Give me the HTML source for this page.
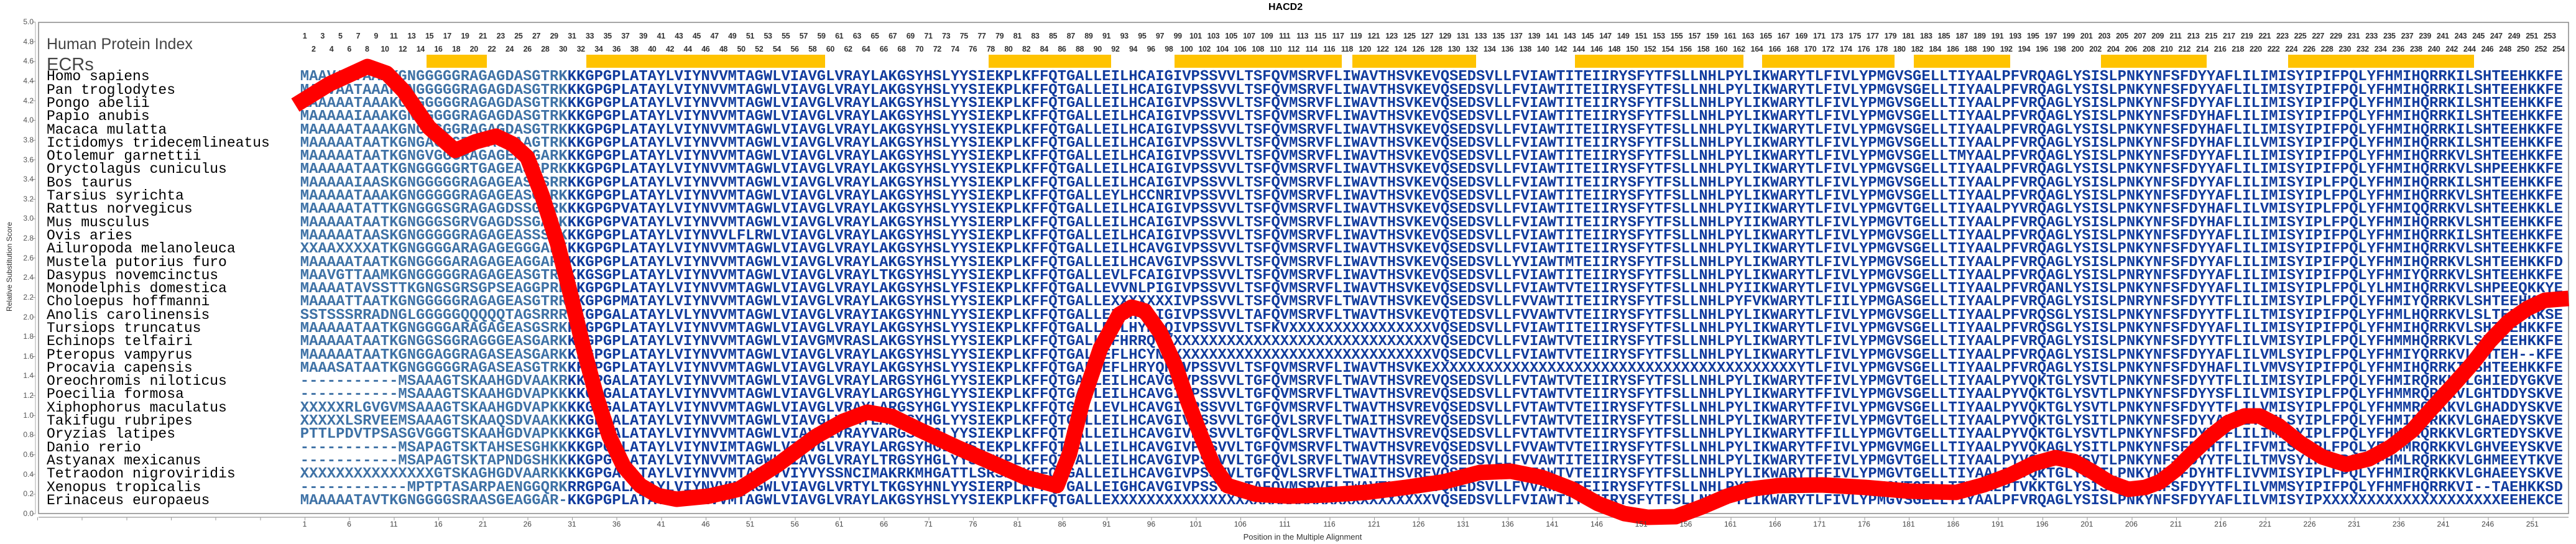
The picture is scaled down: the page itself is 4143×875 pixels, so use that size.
<!DOCTYPE html>
<html><head><meta charset="utf-8">
<style>
*{margin:0;padding:0;box-sizing:border-box}
body{width:4143px;height:875px;background:#fff;position:relative;overflow:hidden;font-family:"Liberation Sans",sans-serif}
.abs{position:absolute}
pre{margin:0}
.names{left:75px;top:113.35px;font-family:"Liberation Mono","DejaVu Sans Mono",monospace;font-size:23px;line-height:21.3px;color:#000}
.seq{left:482.8px;top:113.35px;font-family:"Liberation Mono","DejaVu Sans Mono",monospace;font-weight:bold;font-size:23.885px;line-height:21.3px;color:#123c9e;white-space:pre}
.seq i{font-style:normal;color:#3f72a6}
.idx{display:flex;font-family:"Liberation Sans Narrow","Liberation Sans",sans-serif;font-weight:bold;font-size:12.5px;color:#333;letter-spacing:-0.4px}
.idx span{width:28.667px;flex:none;text-align:center}
.xl{display:flex;font-size:12px;color:#444;top:836px;left:454.17px}
.xl span{width:71.667px;flex:none;text-align:center}
.yl{left:20px;top:27.2px;width:34px;font-size:12px;color:#555;text-align:right}
.yl div{height:31.64px;line-height:16px}
</style></head><body>

<div class="abs" style="left:2040px;top:3px;font-weight:bold;font-size:16px;color:#000">HACD2</div>

<svg class="abs" style="left:0;top:0" width="4143" height="875">
<rect x="62" y="36" width="4069" height="790" fill="none" stroke="#888" stroke-width="1.5"/>
<line x1="57" y1="36" x2="57" y2="826" stroke="#aaa" stroke-width="1"/>
<line x1="62" y1="832" x2="4131" y2="832" stroke="#aaa" stroke-width="1.5"/>
<g fill="#FFC300">
<rect x="686" y="88" width="97" height="21"/>
<rect x="943" y="88" width="384" height="21"/>
<rect x="1590" y="88" width="197" height="21"/>
<rect x="1889" y="88" width="269" height="21"/>
<rect x="2175" y="88" width="199" height="21"/>
<rect x="2533" y="88" width="271" height="21"/>
<rect x="2834" y="88" width="213" height="21"/>
<rect x="3078" y="88" width="155" height="21"/>
<rect x="3379" y="88" width="170" height="21"/>
<rect x="3680" y="88" width="299" height="21"/>
</g>
</svg>

<div class="abs" style="left:52px;top:35px;width:5px;height:792px;background:repeating-linear-gradient(to bottom,#999 0 1px,transparent 1px 31.64px)"></div>
<div class="abs" style="left:60px;top:832px;width:4071px;height:5px;background:repeating-linear-gradient(to right,#999 0 1px,transparent 1px 71.667px)"></div>

<div class="abs yl">
<div>5.0</div><div>4.8</div><div>4.6</div><div>4.4</div><div>4.2</div><div>4.0</div><div>3.8</div><div>3.6</div><div>3.4</div><div>3.2</div><div>3.0</div><div>2.8</div><div>2.6</div><div>2.4</div><div>2.2</div><div>2.0</div><div>1.8</div><div>1.6</div><div>1.4</div><div>1.2</div><div>1.0</div><div>0.8</div><div>0.6</div><div>0.4</div><div>0.2</div><div>0.0</div>
</div>
<div class="abs" style="left:-70px;top:422px;width:170px;text-align:center;font-size:12px;color:#333;transform:rotate(-90deg)">Relative Substitution Score</div>

<div class="abs" style="left:75px;top:56px;font-size:25px;color:#444;line-height:30px">Human Protein Index</div>
<div class="abs" style="left:75px;top:88px;font-size:29px;color:#444;line-height:32px">ECRs</div>

<div class="abs idx" style="left:475.67px;top:51px">
<span>1</span><span>3</span><span>5</span><span>7</span><span>9</span><span>11</span><span>13</span><span>15</span><span>17</span><span>19</span><span>21</span><span>23</span><span>25</span><span>27</span><span>29</span><span>31</span><span>33</span><span>35</span><span>37</span><span>39</span><span>41</span><span>43</span><span>45</span><span>47</span><span>49</span><span>51</span><span>53</span><span>55</span><span>57</span><span>59</span><span>61</span><span>63</span><span>65</span><span>67</span><span>69</span><span>71</span><span>73</span><span>75</span><span>77</span><span>79</span><span>81</span><span>83</span><span>85</span><span>87</span><span>89</span><span>91</span><span>93</span><span>95</span><span>97</span><span>99</span><span>101</span><span>103</span><span>105</span><span>107</span><span>109</span><span>111</span><span>113</span><span>115</span><span>117</span><span>119</span><span>121</span><span>123</span><span>125</span><span>127</span><span>129</span><span>131</span><span>133</span><span>135</span><span>137</span><span>139</span><span>141</span><span>143</span><span>145</span><span>147</span><span>149</span><span>151</span><span>153</span><span>155</span><span>157</span><span>159</span><span>161</span><span>163</span><span>165</span><span>167</span><span>169</span><span>171</span><span>173</span><span>175</span><span>177</span><span>179</span><span>181</span><span>183</span><span>185</span><span>187</span><span>189</span><span>191</span><span>193</span><span>195</span><span>197</span><span>199</span><span>201</span><span>203</span><span>205</span><span>207</span><span>209</span><span>211</span><span>213</span><span>215</span><span>217</span><span>219</span><span>221</span><span>223</span><span>225</span><span>227</span><span>229</span><span>231</span><span>233</span><span>235</span><span>237</span><span>239</span><span>241</span><span>243</span><span>245</span><span>247</span><span>249</span><span>251</span><span>253</span>
</div>
<div class="abs idx" style="left:490px;top:72px">
<span>2</span><span>4</span><span>6</span><span>8</span><span>10</span><span>12</span><span>14</span><span>16</span><span>18</span><span>20</span><span>22</span><span>24</span><span>26</span><span>28</span><span>30</span><span>32</span><span>34</span><span>36</span><span>38</span><span>40</span><span>42</span><span>44</span><span>46</span><span>48</span><span>50</span><span>52</span><span>54</span><span>56</span><span>58</span><span>60</span><span>62</span><span>64</span><span>66</span><span>68</span><span>70</span><span>72</span><span>74</span><span>76</span><span>78</span><span>80</span><span>82</span><span>84</span><span>86</span><span>88</span><span>90</span><span>92</span><span>94</span><span>96</span><span>98</span><span>100</span><span>102</span><span>104</span><span>106</span><span>108</span><span>110</span><span>112</span><span>114</span><span>116</span><span>118</span><span>120</span><span>122</span><span>124</span><span>126</span><span>128</span><span>130</span><span>132</span><span>134</span><span>136</span><span>138</span><span>140</span><span>142</span><span>144</span><span>146</span><span>148</span><span>150</span><span>152</span><span>154</span><span>156</span><span>158</span><span>160</span><span>162</span><span>164</span><span>166</span><span>168</span><span>170</span><span>172</span><span>174</span><span>176</span><span>178</span><span>180</span><span>182</span><span>184</span><span>186</span><span>188</span><span>190</span><span>192</span><span>194</span><span>196</span><span>198</span><span>200</span><span>202</span><span>204</span><span>206</span><span>208</span><span>210</span><span>212</span><span>214</span><span>216</span><span>218</span><span>220</span><span>222</span><span>224</span><span>226</span><span>228</span><span>230</span><span>232</span><span>234</span><span>236</span><span>238</span><span>240</span><span>242</span><span>244</span><span>246</span><span>248</span><span>250</span><span>252</span><span>254</span>
</div>

<pre class="abs names">Homo sapiens
Pan troglodytes
Pongo abelii
Papio anubis
Macaca mulatta
Ictidomys tridecemlineatus
Otolemur garnettii
Oryctolagus cuniculus
Bos taurus
Tarsius syrichta
Rattus norvegicus
Mus musculus
Ovis aries
Ailuropoda melanoleuca
Mustela putorius furo
Dasypus novemcinctus
Monodelphis domestica
Choloepus hoffmanni
Anolis carolinensis
Tursiops truncatus
Echinops telfairi
Pteropus vampyrus
Procavia capensis
Oreochromis niloticus
Poecilia formosa
Xiphophorus maculatus
Takifugu rubripes
Oryzias latipes
Danio rerio
Astyanax mexicanus
Tetraodon nigroviridis
Xenopus tropicalis
Erinaceus europaeus</pre>

<pre class="abs seq"><i>MAAVAATAAAKGNGGGGGRAGAGDASGTRK</i>KKGPGPLATAYLVIYNVVMTAGWLVIAVGLVRAYLAKGSYHSLYYSIEKPLKFFQTGALLEILHCAIGIVPSSVVLTSFQVMSRVFLIWAVTHSVKEVQSEDSVLLFVIAWTITEIIRYSFYTFSLLNHLPYLIKWARYTLFIVLYPMGVSGELLTIYAALPFVRQAGLYSISLPNKYNFSFDYYAFLILIMISYIPIFPQLYFHMIHQRRKILSHTEEHKKFE
<i>MAAVAATAAAKGNGGGGGRAGAGDASGTRK</i>KKGPGPLATAYLVIYNVVMTAGWLVIAVGLVRAYLAKGSYHSLYYSIEKPLKFFQTGALLEILHCAIGIVPSSVVLTSFQVMSRVFLIWAVTHSVKEVQSEDSVLLFVIAWTITEIIRYSFYTFSLLNHLPYLIKWARYTLFIVLYPMGVSGELLTIYAALPFVRQAGLYSISLPNKYNFSFDYYAFLILIMISYIPIFPQLYFHMIHQRRKILSHTEEHKKFE
<i>AAAAAATAAAKGNGGGGGRAGAGDASGTRK</i>KKGPGPLATAYLVIYNVVMTAGWLVIAVGLVRAYLAKGSYHSLYYSIEKPLKFFQTGALLEILHCAIGIVPSSVVLTSFQVMSRVFLIWAVTHSVKEVQSEDSVLLFVIAWTITEIIRYSFYTFSLLNHLPYLIKWARYTLFIVLYPMGVSGELLTIYAALPFVRQAGLYSISLPNKYNFSFDYYAFLILIMISYIPIFPQLYFHMIHQRRKILSHTEEHKKFE
<i>MAAAAAIAAAKGNGGGGGRAGAGDASGTRK</i>KKGPGPLATAYLVIYNVVMTAGWLVIAVGLVRAYLAKGSYHSLYYSIEKPLKFFQTGALLEILHCAIGIVPSSVVLTSFQVMSRVFLIWAVTHSVKEVQSEDSVLLFVIAWTITEIIRYSFYTFSLLNHLPYLIKWARYTLFIVLYPMGVSGELLTIYAALPFVRQAGLYSISLPNKYNFSFDYHAFLILIMISYIPIFPQLYFHMIHQRRKILSHTEEHKKFE
<i>MAAAAATAAAKGNGGGGGRAGAGDASGTRK</i>KKGPGPLATAYLVIYNVVMTAGWLVIAVGLVRAYLAKGSYHSLYYSIEKPLKFFQTGALLEILHCAIGIVPSSVVLTSFQVMSRVFLIWAVTHSVKEVQSEDSVLLFVIAWTITEIIRYSFYTFSLLNHLPYLIKWARYTLFIVLYPMGVSGELLTIYAALPFVRQAGLYSISLPNKYNFSFDYHAFLILIMISYIPIFPQLYFHMIHQRRKILSHTEEHKKFE
<i>MAAAAATAATKGNGAGGGRVGAGEAAGTRK</i>KKGPGPLATAYLVIYNVVMTAGWLVIAVGLVRAYLAKGSYHSLYYSIEKPLKFFQTGALLEILHCAIGIVPSSVVLTSFQVMSRVFLIWAVTHSVKEVQSEDSVLLFVIAWTITEIIRYSFYTFSLLNHLPYLIKWARYTLFIVLYPMGVSGELLTIYAALPFVRQAGLYSISLPNKYNFSFDYHAFLILVMISYIPIFPQLYFHMIHQRRKILSHTEEHKKFE
<i>MAAAAATAATKGNGVGGGRAGAGEASGARK</i>KKGPGPLATAYLVIYNVVMTAGWLVIAVGLVRAYLAKGSYHSLYYSIEKPLKFFQTGALLEILHCAIGIVPSSVVLTSFQVMSRVFLIWAVTHSVKEVQSEDSVLLFVIAWTITEIIRYSFYTFSLLNHLPYLIKWARYTLFIVLYPMGVSGELLTMYAALPFVRQAGLYSISLPNKYNFSFDYYAFLILIMISYIPIFPQLYFHMIHQRRKVLSHTEEHKKFE
<i>MAAAAATAATKGNGGGGGRTGAGEASGPRK</i>KKGPGPLATAYLVIYNVVMTAGWLVIAVGLVRAYLAKGSYHSLYYSIEKPLKFFQTGALLEILHCAIGIVPSSVVLTSFQVMSRVFLIWAVTHSVKEVQSEDSVLLFVIAWTITEIIRYSFYTFSLLNHLPYLIKWARYTLFIVLYPMGVSGELLTIYAALPFVRQAGLYSISLPNKYNFSFDYYAFLILIMISYIPIFPQLYFHMIHQRRKVLSHPEEHKKFE
<i>MAAAAAIAASKGNGGGGGRAGAGEASSSRR</i>KKGPGPLATAYLVIYNVVMTAGWLVIAVGLVRAYLAKGSYHSLYYSIEKPLKFFQTGALLEILHCAIGIVPSSVVLTSFQVMSRVFLIWAVTHSVKEVQSEDSVLLFVIAWTITEIIRYSFYTFSLLNHLPYLIKWARYTLFIVLYPMGVSGELLTIYAALPFVRQAGLYSISLPNKYNFSFDYYAFLILIMISYIPLFPQLYFHMIHQRRKILSHTEEHKKFE
<i>MAAAAATAAAKGNGGGGGRAGAGEASGSRK</i>KKGPGPLATAYLVIYNVVMTAGWLVIAVGLVRAYLAKGSYHSLYYSIEKPLKFFQTGALLEYLHCCNRIVPSSVVLTSFQVMSRVFLIWAVTHSVKEVQSEDSVLLFVIAWTITEIIRYSFYTFSLLNHLPYLIKWARYTLFIVLYPMGVSGELLTIYAALPFVRQAGLYSISLPNKYNFSFDYYAFLILIMISYIPLFPQLYFHMIHQRRKVLSHTEEHKKFE
<i>MAAAAATATTKGNGGGSGRAGAGDSSGSRK</i>KKGPGPVATAYLVIYNVVMTAGWLVIAVGLVRAYLAKGSYHSLYYSIEKPLKFFQTGALLEILHCAIGIVPSSVVLTSFQVMSRVFLIWAVTHSVKEVQSEDSVLLFVIAWTITEIIRYSFYTFSLLNHLPYIIKWARYTLFIVLYPMGVTGELLTIYAALPYVRQAGLYSISLPNKYNFSFDYHAFLILVMISYIPLFPQLYFHMIQQRRKVLSHTEEHKKLE
<i>MAAAAATAATKGNGGGSGRVGAGDSSGARK</i>KKGPGPVATAYLVIYNVVMTAGWLVIAVGLVRAYLAKGSYHSLYYSIERPLKFFQTGALLEILHCAIGIVPSSVVLTSFQVMSRVFLIWAVTHSVKEVQSEDSVLLFVIAWTITEIIRYSFYTFSLLNHLPYIIKWARYTLFIVLYPMGVTGELLTIYAALPFVRQAGLYSISLPNKYNFSFDYHAFLILIMISYIPLFPQLYFHMIHQRRKVLSHTEEHKKFE
<i>MAAAAATAASKGNGGGGGRAGAGEASSSRK</i>KKGPGPLATAYLVIYNVVLFLRWLVIAVGLVRAYLAKGSYHSLYYSIEKPLKFFQTGALLEILHCAIGIVPSSVVLTSFQVMSRVFLIWAVTHSVKEVQSEDSVLLFVIAWTITEIIRYSFYTFSLLNHLPYLIKWARYTLFIVLYPMGVSGELLTIYAALPFVRQAGLYSISLPNKYNFSFDYYAFLILIMISYIPIFPQLYFHMIHQRRKILSHTEEHKKFE
<i>XXAAXXXXATKGNGGGGARAGAGEGGGARK</i>KKGPGPLATAYLVIYNVVMTAGWLVIAVGLVRAYLAKGSYHSLYYSIEKPLKFFQTGALLEILHCAVGIVPSSVVLTSFQVMSRVFLIWAVTHSVKEVQSEDSVLLFVIAWTITEIIRYSFYTFSLLNHLPYLIKWARYTLFIVLYPMGVSGELLTIYAALPFVRQAGLYSISLPNKYNFSFDYYAFLILIMISYIPIFPQLYFHMIHQRRKVLSHTEEHKKFE
<i>MAAAAATAATKGNGGGGARAGAGEAGGARK</i>KKGPGPLATAYLVIYNVVMTAGWLVIAVGLVRAYLAKGSYHSLYYSIEKPLKFFQTGALLEILHCAVGIVPSSVVLTSFQVMSRVFLIWAVTHSVKEVQSEDSVLLYVIAWTMTEIIRYSFYTFSLLNHLPYLIKWARYTLFIVLYPMGVSGELLTIYAALPFVRQAGLYSISLPNKYNFSFDYYAFLILIMISYIPIFPQLYFHMIHQRRKVLSHTEEHKKFD
<i>MAAVGTTAAMKGNGGGGGRAGAGEASGTRK</i>KKGSGPLATAYLVIYNVVMTAGWLVIAVGLVRAYLTKGSYHSLYYSIEKPLKFFQTGALLEVLFCAIGIVPSSVVLTSFQVMSRVFLIWAVTHSVKEVQSEDSVLLFVIAWTITEIIRYSFYTFSLLNHLPYLIKWARYTLFIVLYPMGVSGELLTIYAALPFVRQAGLYSISLPNRYNFSFDYYAFLILIMISYIPIFPQLYFHMIYQRRKVLSHTEEHKKFE
<i>MAAAATAVSSTTKGNGSGRSGPSEAGGPRK</i>KKGPGPLATAYLVIYNVVMTAGWLVIAVGLVRAYLAKGSYHSLYFSIEKPLKFFQTGALLEVVNLPIGIVPSSVVLTSFQVMSRVFLIWAVTHSVKEVQSEDSVLLFVIAWTVTEIIRYSFYTFSLLNHLPYIIKWARYTLFIVLYPMGVSGELLTIYAALPFVRQANLYSISLPNKYNFSFDYYAFLILIMISYIPLFPQLYLHMIHQRRKVLSHPEEQKKYE
<i>MAAAATTAATKGNGGGGGRAGAGEASGTRR</i>KKGPGPMATAYLVIYNVVMTAGWLVIAVGLVRAYLAKGSYHSLYYSIEKPLKFFQTGALLEXXXXXXXIVPSSVVLTSFQVMSRVFLTWAVTHSVKEVQSEDSVLLFVVAWTITEIIRYSFYTFSLLNHLPYFVKWARYTLFIILYPMGASGELLTIYAALPFVRQAGLYSISLPNRYNFSFDYYTFLILIMISYIPLFPQLYFHMIYQRRKVLSHTEEHKKFE
<i>SSTSSSRRADNGLGGGGGQQQQQTAGSRRR</i>KKGPGALATAYLVLYNVVMTAGWLVIAVGLVRAYIAKGSYHNLYYSIEKPLKFFQTGALLEILHCAIGIVPSSVVLTAFQVMSRVFLTWAVTHSVKEVQTEDSVLLFVVAWTVTEIIRYSFYTFSLLNHLPYLIKWARYTLFIVLYPMGVSGELLTIYAALPFVRQSGLYSISLPNKYNFSFDYYTFLILTMISYIPIFPQLYFHMLHQRRKVLSLTEEHKKSE
<i>MAAAAATAATKGNGGGGARAGAGEASGSRK</i>KKGPGPLATAYLVIYNVVMTAGWLVIAVGLVRAYLAKGSYHSLYYSIEKPLKFFQTGALLEFLHYN-QIVPSSVVLTSFKVXXXXXXXXXXXXXXXXVQSEDSVLLFVIAWTITEIIRYSFYTFSLLNHLPYLIKWARYTLFIVLYPMGVSGELLTIYAALPFVRQSGLYSISLPNKYNFSFDYYAFLILIMISYIPIFPQLYFHMIHQRRKVLSHTEEHKKFE
<i>MAAAAATAATKGNGGSGGRAGGGEASGARK</i>KKGPGPLATAYLVIYNVVMTAGWLVIAVGMVRASLAKGSYHSLYYSIEKPLKFFQTGALLEFHRRQ-XXXXXXXXXXXXXXXXXXXXXXXXXXXXXXVQSEDCVLLFVIAWTVTEIIRYSFYTFSLLNHLPYLIKWARYTLFIVLYPMGVSGELLTIYAALPFVRQAGLYSISLPNKYNFSFDYYTFLILVMISYIPLFPQLYFHMMHQRRKVLSHTEEHKKFE
<i>MAAAAATAATKGNGGAGGRAGASEASGARK</i>KKGPGPLATAYLVIYNVVMTAGWLVIAVGLVRAYLAKGSYHSLYYSIEKPLKFFQTGALLEFLHCYNXXXXXXXXXXXXXXXXXXXXXXXXXXXXXXVQSEDCVLLFVIAWTVTEIIRYSFYTFSLLNHLPYLIKWARYTLFIVLYPMGVSGELLTIYAALPFVRQAGLYSISLPNKYNFSFDYYAFLILVMLSYIPLFPQLYFHMIYQRRKVLSHTEH--KFE
<i>MAAASATAATKGNGGGGGRAGASEASGTRK</i>KKGPGPLATAYLVIYNVVMTAGWLVIAVGLVRAYLAKGSYHSLYYSIEKPLKFFQTGALLEFLHRYQRIVPSSVVLTSFQVMSRVFLIWAVTHSVKEXXXXXXXXXXXXXXXXXXXXXXXXXXXXXXXXXXXXXXXXXYTLFIVLYPMGVSGELLTIYAALPFVRQAGLYSISLPNKYNFSFDYHAFLILVMVSYIPIFPQLYFHMIHQRRKILSHTEEHKKFE
<i>-----------MSAAAGTSKAAHGDVAAKR</i>KKGPGALATAYLVIYNVVMTAGWLVIAVGLVRAYLARGSYHGLYYSIEKPLKFFQTGAVLEILHCAVGIVPSSVVLTGFQVMSRVFLTWAVTHSVREVQSEDSVLLFVTAWTVTEIIRYSFYTFSLLNHLPYLIKWARYTFFIVLYPMGVTGELLTIYAALPYVQKTGLYSVTLPNKYNFSFDYYTFLILIMISYIPLFPQLYFHMIRQRKKVLGHIEDYGKVE
<i>-----------MSAAAGTSKAAHGDVAPKK</i>KKGPGALATAYLVIYNVVMTAGWLVIAVGLVRAYLARGSYHGLYYSIEKPLKFFQTGALLEILHCAVGIVPSSVVLTGFQVMSRVFLTWAVTHSVREVQSEDSVLLFVTAWTVTEIIRYSFYTFSLLNHLPYLIKWARYTFFIVLYPMGVSGELLTIYAALPYVQKTGLYSVTLPNKYNFSFDYYSFLILVMISYIPLFPQLYFHMMRQRKKVLGHTDDYSKVE
<i>XXXXXRLGVGVMSAAAGTSKAAHGDVAPKK</i>KKGPGALATAYLVIYNVVMTAGWLVIAVGLVRAYLARGSYHGLYYSIEKPLKFFQTGALLEVLHCAVGIVPSSVVLTGFQVMSRVFLTWAVTHSVREVQSEDSVLLFVTAWTVTEIIRYSFYTFSLLNHLPYLIKWARYTFFIVLYPMGVSGELLTIYAALPYVQKTGLYSVTLPNKYNFSFDYYTFLILVMISYIPLFPQLYFHMMRQRKKVLGHADDYSKVE
<i>XXXXXLSRVEEMSAAAGTSKAAQSDVAAKK</i>KKGPGALATAYLVIYNVVMTAGWLVIAVGLVRAYLARGSYHGLYYSIEKPLKFFQTGALLEILHCAVGIVPSSVVLTGFQVLSRVFLTWAITHSVREVQSEDSVLLFVTAWTVTEIIRYSFYTFSLLNHLPYLIKWARYTFFIVLYPMGVTGELLTIYAALPYVQKTGLYSITLPNKYNFSFDYYAFLIVVMLSYIPLFPQLYFHMIRQRKKVLGHAEDYSKVE
<i>PTTLPDVTPSASGVGGGTSKAAHGDVAPKK</i>KKGPGALATAYLVIYNVVMTAGWLVIAVGLVRAYVARGSYHGLYYSIEKPLKFFQTGALLEILHCAVGIVPSSVVLTGFQVLSRVFLTWAVTHSVREVQSEDSVLLFVTAWTVTEIIRYSFYTFSLLNHLPYLIKWARYTFFILLYPMGVTGELLTIYAALPYVQKTGLYSVTLPNKYNFSFDYYTFLILIMISYIPLFPQLYFHMLRQRKKVLGRTEDYSKVE
<i>-----------MSAPAGTSKTAHSESGHKK</i>KKGPGTLATAYLVIYNVIMTAGWLVIAVGLVRAYLARGSYHGLYYSIEKPLKFFQTGALLEILHCAVGIVPSSVVLTGFQVMSRVFLTWAVTHSVREVQSEDSVLLFVVAWTVTEIIRYSFYTFSLLNHLPYLIKWARYTFFIVLYPMGVMGELLTIYAALPYVQKAGLYSITLPNKYNFSFDYHTFLIFVMISYIPLFPQLYFHMMRQRKKVLGHVEEYSKVE
<i>-----------MSAPAGTSKTAPNDGSHKK</i>KKGPGTLATAYLVIYNVVMTAGWLVIAVGLVRAYLTRGSYHGLYYSIEKPLKFFQTGALLEILHCAVGIVPSSVVLTGFQVLSRVFLTWAVTHSVREVQSEDSVLLFVVAWTITEIIRYSFYTFSLLNHLPYLIKWARYTFFIVLYPMGVTGELLTIYAALPYVQKTGLYSVTLPNKYNFSFDYYTFLILTMVSYIPLFPQLYFHMLRQRKKVLGHMEEYTKVE
<i>XXXXXXXXXXXXXXXGTSKAGHGDVAARKK</i>KKGPGALATAYLVIYNVVMTAGFVVIYVYSSNCIMAKRKMHGATTLSRSPLKFFQTGALLEILHCAVGIVPSSVVLTGFQVLSRVFLTWAITHSVREVQSEDSVLLFVTAWTVTEIIRYSFYTFSLLNHLPYLIKWARYTFFIVLYPMGVTGELLTIYAALPYVQKTGLYSVTLPNKYNFSFDYHTFLIVVMISYIPLFPQLYFHMIRQRKKVLGHAEEYSKVE
<i>------------MPTPTASARPAENGGQRK</i>RRGPGALATAYLVIYNVVMTAGWLVIAVGLVRTYLTKGSYHNLYYSIERPLKFFQTGALLEIGHCAVGIVPSSVVLTAFQVMSRVFLTWAVTHSVREVQNEDSVLLFVVAWTITEIIRYSFYTFSLLNHLPYIIKWARYTLFIVLYPMGVTGELLTIYAALPTVKKTGLYSISLPNKYNFSFDYYTFLILVMMSYIPIFPQLYFHMFHQRRKVI--TAEHKKSD
<i>MAAAAATAVTKGNGGGGSRAASGEAGGAR-</i>KKGPGPLATAYLVIYNVVMTAGWLVIAVGLVRAYLAKGSYHSLYYSIEKPLKFFQTGALLEXXXXXXXXXXXXXXXXXXXXXXXXXXXXXXXXXXXXVQSEDSVLLFVIAWTITEIIRYSFYTFSLLNHLPYLIKWARYTLFIVLYPMGVSGELLTIYAALPFVRQAGLYSISLPNKYNFSFDYYAFLILVMISYIPXXXXXXXXXXXXXXXXXXXXEEHEKCE</pre>

<svg class="abs" style="left:0;top:0" width="4143" height="875">
<polyline fill="none" stroke="#ff0000" stroke-width="25" stroke-linejoin="round" stroke-linecap="butt" points="475,169 530,135 591,107 622,118 649,146 690,205 732,242 765,228 798,219 825,232 848,253 872,315 897,393 918,475 939,562 960,640 980,702 1003,750 1030,781 1058,797 1088,803 1140,798 1188,787 1250,748 1312,702 1355,678 1395,663 1435,670 1478,691 1540,720 1602,747 1650,768 1700,781 1720,730 1741,646 1770,560 1800,506 1820,494 1841,500 1866,535 1891,590 1912,650 1932,702 1952,750 1974,781 2020,795 2073,798 2135,796 2197,792 2260,784 2322,775 2380,760 2430,758 2480,768 2529,787 2570,810 2612,826 2650,832 2695,831 2738,815 2778,798 2820,786 2861,781 2930,780 3000,784 3070,790 3146,792 3190,780 3233,764 3270,746 3306,736 3335,742 3364,758 3393,776 3423,787 3450,784 3474,775 3500,755 3525,730 3555,702 3583,680 3610,669 3634,669 3665,685 3700,713 3735,735 3773,747 3810,738 3845,719 3880,692 3911,657 3945,620 3977,584 4005,548 4035,517 4065,496 4093,483 4131,480"/>
</svg>

<div class="abs xl">
<span>1</span><span>6</span><span>11</span><span>16</span><span>21</span><span>26</span><span>31</span><span>36</span><span>41</span><span>46</span><span>51</span><span>56</span><span>61</span><span>66</span><span>71</span><span>76</span><span>81</span><span>86</span><span>91</span><span>96</span><span>101</span><span>106</span><span>111</span><span>116</span><span>121</span><span>126</span><span>131</span><span>136</span><span>141</span><span>146</span><span>151</span><span>156</span><span>161</span><span>166</span><span>171</span><span>176</span><span>181</span><span>186</span><span>191</span><span>196</span><span>201</span><span>206</span><span>211</span><span>216</span><span>221</span><span>226</span><span>231</span><span>236</span><span>241</span><span>246</span><span>251</span>
</div>
<div class="abs" style="left:1980px;top:856px;width:230px;text-align:center;font-size:13px;color:#333">Position in the Multiple Alignment</div>
</body></html>
